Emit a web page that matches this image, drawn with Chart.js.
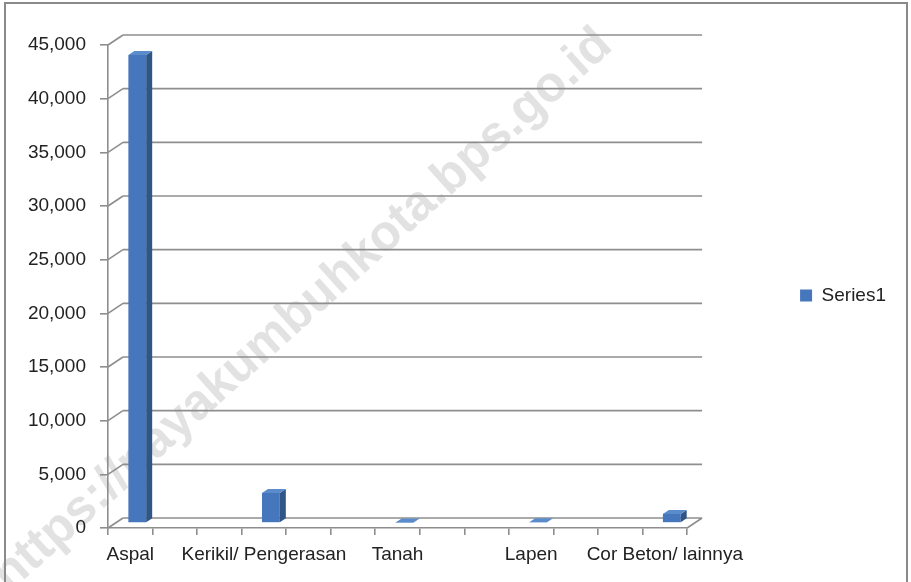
<!DOCTYPE html>
<html>
<head>
<meta charset="utf-8">
<script src="https://cdn.jsdelivr.net/npm/chart.js@4.4.1/dist/chart.umd.min.js"></script>
<style>
  html, body { margin: 0; padding: 0; background: #fff; }
  #wrap { width: 911px; height: 582px; position: relative; }
</style>
</head>
<body>
<div id="wrap"><canvas id="chart"></canvas></div>
<script>
"use strict";

/* ===== DADOS ===== */
// 13 kategori; label antara disembunyikan seperti di Excel
const kategori = ["Aspal", "", "", "Kerikil/ Pengerasan", "", "", "Tanah", "", "", "Lapen", "", "", "Cor Beton/ lainnya"];
const nilai = [43600, null, null, 2800, null, null, 40, null, null, 60, null, null, 850];
const namaSeri = "Series1";
const yTicks = [0, 5000, 10000, 15000, 20000, 25000, 30000, 35000, 40000, 45000];

const FONT = "'Liberation Sans', Arial, sans-serif";
const GRID = "#8e8e8e";
const DEPTH_X = 15, DEPTH_Y = -10;   // offset dinding belakang
const SHIFT_X = 7, SHIFT_Y = -5;     // posisi batang di tengah kedalaman
const BAR_DX = 6, BAR_DY = -4;       // tebal batang 3D

const efek3d = {
    id: "efek3d",
    beforeDraw(chart) {
        const { ctx } = chart;
        ctx.save();
        // watermark
        ctx.translate(605, 38);
        ctx.rotate(-42 * Math.PI / 180);
        ctx.font = "bold 50px " + FONT;
        ctx.fillStyle = "#e2e2e2";
        ctx.textAlign = "right";
        ctx.textBaseline = "middle";
        ctx.fillText("https://payakumbuhkota.bps.go.id", 0, 0);
        ctx.restore();

        // bingkai luar
        ctx.save();
        ctx.strokeStyle = "#8a8a8a";
        ctx.lineWidth = 2;
        ctx.strokeRect(5, 3, 902, 620);
        ctx.restore();

        // dinding belakang + lantai
        const { left, right, bottom } = chart.chartArea;
        const y = chart.scales.y;
        ctx.save();
        ctx.strokeStyle = GRID;
        ctx.lineWidth = 1.6;
        ctx.beginPath();
        yTicks.forEach(v => {
            const py = y.getPixelForValue(v);
            ctx.moveTo(left + DEPTH_X, py + DEPTH_Y);
            ctx.lineTo(right + DEPTH_X, py + DEPTH_Y);
            ctx.moveTo(left, py);
            ctx.lineTo(left + DEPTH_X, py + DEPTH_Y);
        });
        ctx.moveTo(right, bottom);
        ctx.lineTo(right + DEPTH_X, bottom + DEPTH_Y);
        ctx.stroke();
        ctx.restore();
    },
    beforeDatasetsDraw(chart) {
        chart.ctx.save();
        chart.ctx.translate(SHIFT_X, SHIFT_Y);
    },
    afterDatasetsDraw(chart) {
        const { ctx } = chart;
        const meta = chart.getDatasetMeta(0);
        meta.data.forEach((bar, i) => {
            if (nilai[i] == null) return;
            const { x, y, base, width } = bar.getProps(["x", "y", "base", "width"], true);
            const l = x - width / 2, r = x + width / 2;
            // sisi kanan
            ctx.fillStyle = "#2f5687";
            ctx.beginPath();
            ctx.moveTo(r, y);
            ctx.lineTo(r + BAR_DX, y + BAR_DY);
            ctx.lineTo(r + BAR_DX, base + BAR_DY);
            ctx.lineTo(r, base);
            ctx.closePath();
            ctx.fill();
            // atas
            ctx.fillStyle = "#5a8bcb";
            ctx.beginPath();
            ctx.moveTo(l, y);
            ctx.lineTo(l + BAR_DX, y + BAR_DY);
            ctx.lineTo(r + BAR_DX, y + BAR_DY);
            ctx.lineTo(r, y);
            ctx.closePath();
            ctx.fill();
        });
        ctx.restore();
    }
};

new Chart(document.getElementById("chart"), {
    type: "bar",
    data: {
        labels: kategori,
        datasets: [{
            label: namaSeri,
            data: nilai,
            backgroundColor: "#4677bc",
            categoryPercentage: 1,
            barPercentage: 0.4
        }]
    },
    options: {
        responsive: true,
        maintainAspectRatio: false,
        animation: false,
        layout: { padding: { top: 45, right: 15, bottom: 0, left: 0 } },
        plugins: {
            tooltip: { enabled: false },
            legend: {
                position: "right",
                fullSize: false,
                title: { display: true, text: "", font: { size: 10 }, padding: 3 },
                labels: {
                    boxWidth: 12,
                    boxHeight: 12,
                    color: "#222",
                    font: { family: FONT, size: 19 }
                }
            }
        },
        scales: {
            x: {
                offset: true,
                grid: { offset: true, drawOnChartArea: false, drawTicks: true, tickLength: 7, color: GRID, lineWidth: 1.6 },
                border: { display: true, color: GRID, width: 1.6 },
                ticks: {
                    autoSkip: false,
                    maxRotation: 0,
                    padding: 8,
                    color: "#222",
                    font: { family: FONT, size: 19 }
                },
                afterFit(s) { s.height = 54; }
            },
            y: {
                min: 0,
                max: 45000,
                afterBuildTicks(s) { s.ticks = yTicks.map(v => ({ value: v })); },
                grid: { drawOnChartArea: false, drawTicks: true, tickLength: 8, color: GRID, lineWidth: 1.6 },
                border: { display: true, color: GRID, width: 1.6 },
                ticks: {
                    padding: 14,
                    color: "#222",
                    font: { family: FONT, size: 19 },
                    callback: v => v.toLocaleString("en-US")
                },
                afterFit(s) { s.width = 108; }
            },
            y2: {
                position: "right",
                display: true,
                grid: { display: false },
                border: { display: false },
                ticks: { display: false },
                afterFit(s) { s.width = 103; }
            }
        }
    },
    plugins: [efek3d]
});
</script>
</body>
</html>
